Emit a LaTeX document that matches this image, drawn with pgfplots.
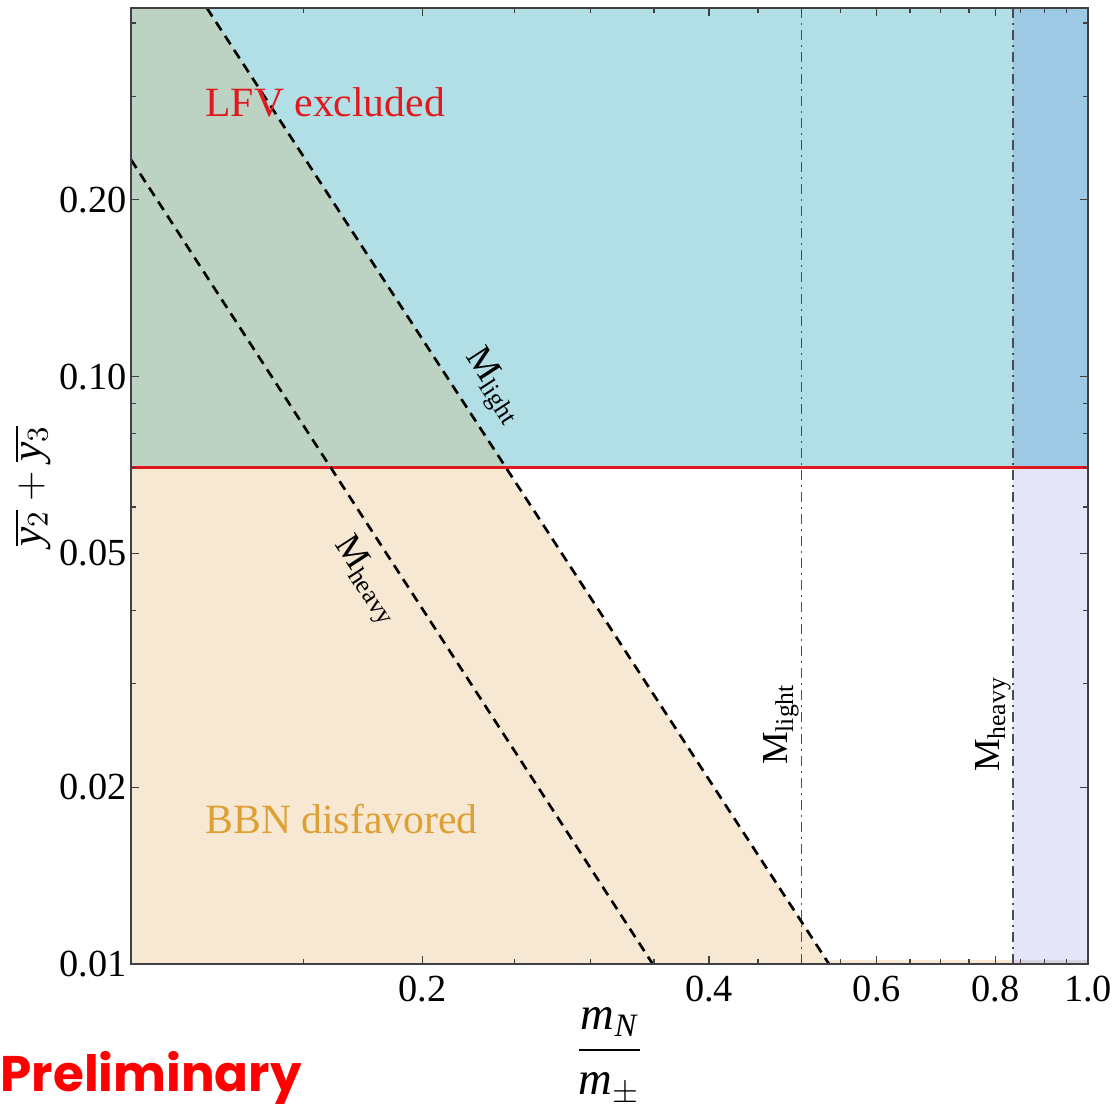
\documentclass[border=0pt]{standalone}
\usepackage{fontspec}
\setmainfont{Liberation Serif}
\newfontfamily\prelimfont{Poppins}
\usepackage{pgfplots}
\pgfplotsset{compat=1.18}
\definecolor{cLFV}{RGB}{178,223,229}
\definecolor{cOver}{RGB}{188,211,195}
\definecolor{cBBN}{RGB}{247,232,211}
\definecolor{cDark}{RGB}{157,201,229}
\definecolor{cLav}{RGB}{229,229,250}
\definecolor{cStrip}{RGB}{216,210,222}
\definecolor{cRed}{RGB}{225,25,30}
\definecolor{cGold}{RGB}{222,160,52}
\begin{document}
\begin{tikzpicture}
\useasboundingbox (-39.3pt,-42pt) rectangle (294.9pt,289.2pt);
\begin{axis}[
  scale only axis, width=287.1pt, height=286.8pt,
  xmode=log, ymode=log,
  xmin=0.0988, xmax=1, ymin=0.01, ymax=0.424,
  axis on top,
  xtick={0.2,0.4,0.6,0.8,1}, xticklabels={0.2,0.4,0.6,0.8,1.0},
  minor xtick={0.15,0.25,0.3,0.35,0.45,0.5,0.55,0.65,0.7,0.75,0.85,0.9,0.95},
  ytick={0.01,0.02,0.05,0.1,0.2}, yticklabels={0.01,0.02,0.05,0.10,0.20},
  minor ytick={0.03,0.04,0.06,0.07,0.08,0.09,0.3,0.4},
  tick align=inside, major tick length=2.5pt, minor tick length=1.4pt,
  tick style={color=black!75, line width=0.4pt},
  axis line style={color=black!75, line width=0.5pt},
  ticklabel style={font=\fontsize{11.5}{13}\selectfont},
  /pgf/number format/assume math mode=true,
  yticklabel style={xshift=2.3pt},
  xlabel={$\displaystyle\frac{\mathit{m}_{\mathit{N}}}{\mathit{m}_{\pm}}$},
  xlabel style={at={(axis description cs:0.5,-0.0965)}, anchor=center, font=\fontsize{14}{17}\selectfont},
  ylabel={$\overline{\mathit{y}_2}+\overline{\mathit{y}_3}$},
  ylabel style={at={(axis description cs:-0.1024,0.5)}, anchor=center, font=\fontsize{13}{15}\selectfont},
]
% LFV excluded
\addplot[fill=cLFV, draw=none] coordinates {(0.0988,0.07) (0.834,0.07) (0.834,0.424) (0.0988,0.424)} -- cycle;
% overlap
\addplot[fill=cOver, draw=none] coordinates {(0.0988,0.07) (0.2446,0.07) (0.1187,0.424) (0.0988,0.424)} -- cycle;
% BBN disfavored
\addplot[fill=cBBN, draw=none] coordinates {(0.0988,0.01) (0.5345,0.01) (0.2446,0.07) (0.0988,0.07)} -- cycle;
% right band
\addplot[fill=cDark, draw=none] coordinates {(0.834,0.07) (1,0.07) (1,0.424) (0.834,0.424)} -- cycle;
\addplot[fill=cLav, draw=none] coordinates {(0.834,0.01) (1,0.01) (1,0.07) (0.834,0.07)} -- cycle;
% thin strip at bottom
\addplot[fill=cBBN, draw=none] coordinates {(0.5345,0.01) (0.834,0.01) (0.834,0.01016) (0.5345,0.01016)} -- cycle;
\addplot[fill=cStrip, draw=none] coordinates {(0.834,0.01) (1,0.01) (1,0.01016) (0.834,0.01016)} -- cycle;
% vertical dash-dot lines
\addplot[black!70, line width=0.4pt, dash pattern=on 3pt off 1.5pt on 0.6pt off 1.5pt] coordinates {(0.5,0.01) (0.5,0.424)};
\addplot[black!70, line width=0.4pt, dash pattern=on 3pt off 1.5pt on 0.6pt off 1.5pt] coordinates {(0.834,0.01) (0.834,0.424)};
% red LFV boundary
\addplot[cRed, line width=0.8pt] coordinates {(0.0988,0.07) (1,0.07)};
% dashed diagonal lines
\addplot[black, line width=0.8pt, dash pattern=on 3pt off 2pt] coordinates {(0.1187,0.424) (0.5345,0.01)};
\addplot[black, line width=0.8pt, dash pattern=on 3pt off 2pt] coordinates {(0.0988,0.234) (0.349,0.01)};
% labels
\node[anchor=west, text=cRed, font=\fontsize{12.5}{15}\selectfont, inner sep=0pt] at (axis cs:0.1181,0.2924) {LFV excluded};
\node[anchor=west, text=cGold, font=\fontsize{12.5}{15}\selectfont, inner sep=0pt] at (axis cs:0.1181,0.01764) {BBN disfavored};
\node[rotate=-57, font=\fontsize{11}{13}\selectfont, inner sep=0pt] at (axis cs:0.2370,0.0960) {M\textsubscript{light}};
\node[rotate=-57, font=\fontsize{11}{13}\selectfont, inner sep=0pt] at (axis cs:0.1745,0.0448) {M\textsubscript{heavy}};
\node[rotate=90, font=\fontsize{11}{13}\selectfont, inner sep=0pt] at (axis cs:0.4760,0.0256) {M\textsubscript{light}};
\node[rotate=90, font=\fontsize{11}{13}\selectfont, inner sep=0pt] at (axis cs:0.795,0.0256) {M\textsubscript{heavy}};
\end{axis}
\node[anchor=base west, text=red, font=\prelimfont\bfseries\fontsize{15}{18}\selectfont, inner sep=0pt] at (-39.3pt,-38.4pt) {Preliminary};
\end{tikzpicture}
\end{document}
